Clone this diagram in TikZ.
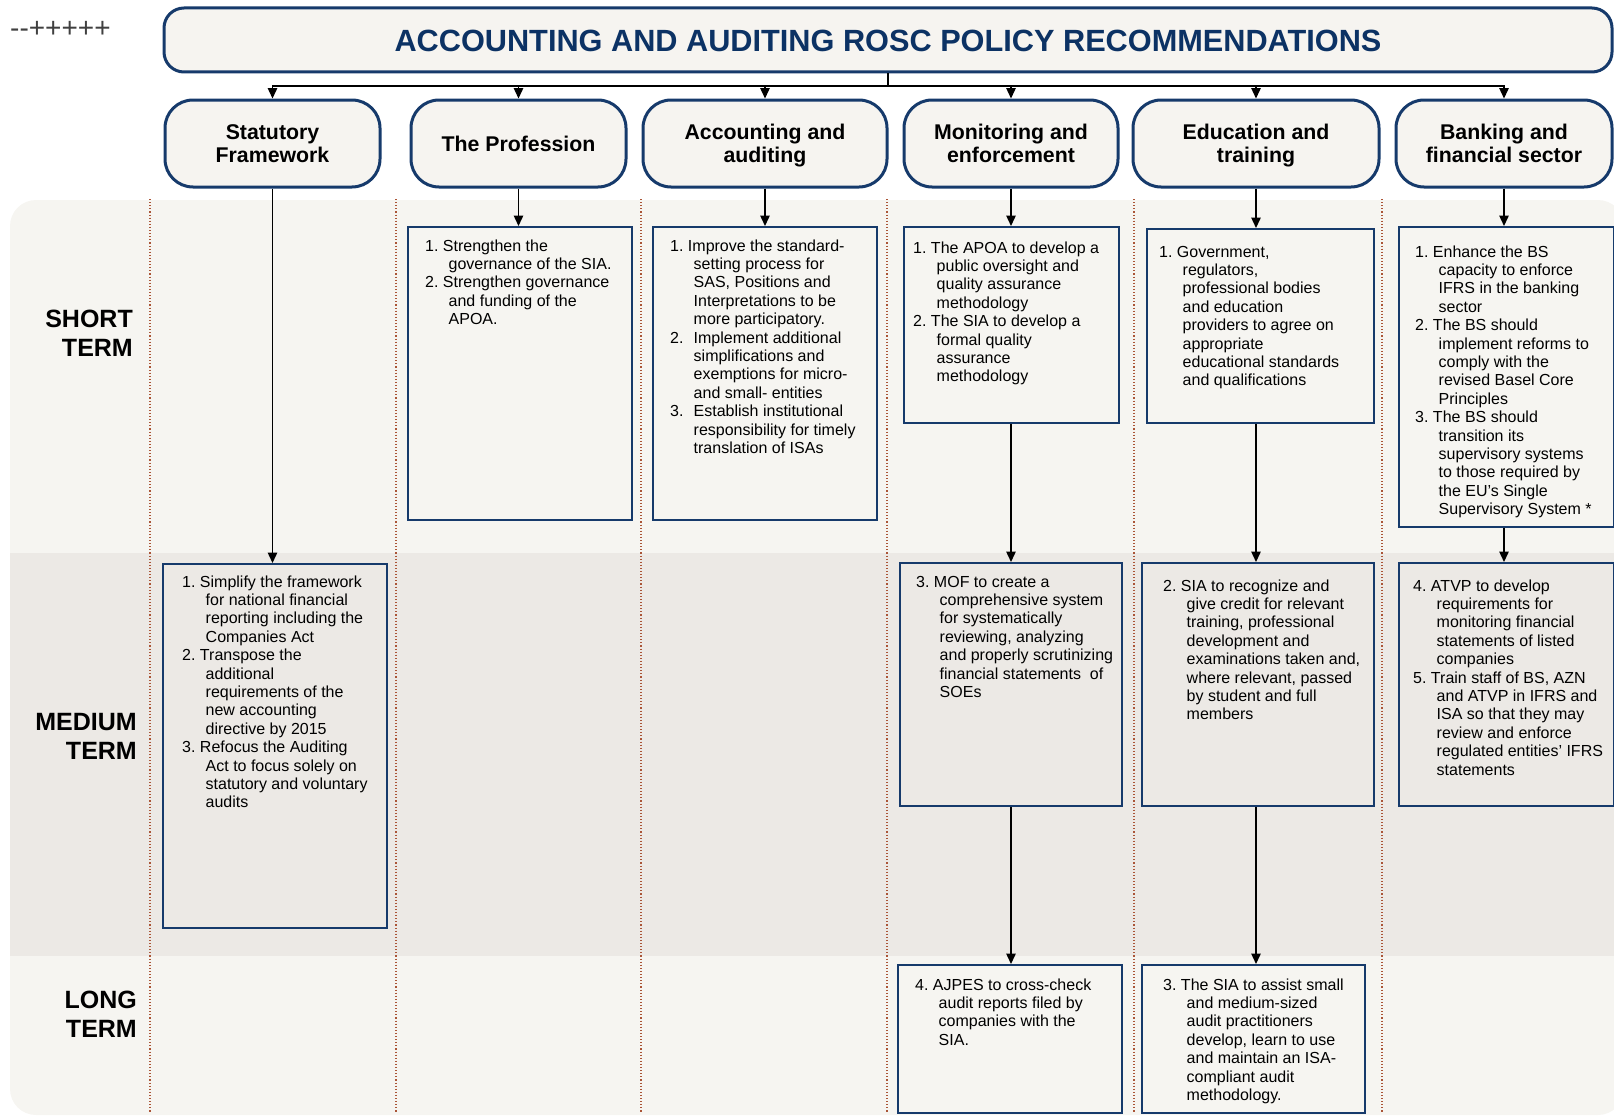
\documentclass[tikz,border=0pt]{standalone}
\usepackage{fontspec}
\setmainfont{Liberation Sans}
\usetikzlibrary{arrows.meta}
\definecolor{navy}{RGB}{22,58,107}
\definecolor{titleblue}{RGB}{12,50,100}
\definecolor{hdrfill}{RGB}{246,244,240}
\definecolor{lightband}{RGB}{246,245,241}
\definecolor{midband}{RGB}{236,233,229}
\definecolor{divcol}{RGB}{170,85,55}
\newcommand\bodyfont{\fontsize{16}{18.4}\selectfont}
\newcommand\itm[2]{\hangindent=23.5pt\hangafter=1\noindent\strut#1\ #2\par}
\newcommand\itmw[2]{\hangindent=23.5pt\hangafter=1\noindent\strut\makebox[23.5pt][l]{#1}#2\par}
\newcommand\itmtext[1]{\parbox[t]{270pt}{\bodyfont\raggedright #1}}
\tikzset{
  hdr/.style={draw=navy, line width=3pt, fill=hdrfill, rounded corners=28pt,
    inner sep=0pt, minimum height=87pt},
  hdrtxt/.style={align=center, inner sep=0pt, font=\fontsize{21.3}{23.5}\selectfont\bfseries},
  tbox/.style={draw=navy, line width=2pt, inner sep=0pt, anchor=north west},
  txt/.style={inner sep=0pt, anchor=north west},
  conn/.style={line width=1.4pt, black},
  arr/.style={line width=1.4pt, black, -{Triangle[length=10.5pt,width=9.5pt]}},
  divider/.style={dotted, line width=1.1pt, divcol},
  term/.style={inner sep=0pt, anchor=north east, align=right, font=\fontsize{25}{29.5}\selectfont\bfseries}
}
\begin{document}
\begin{tikzpicture}[x=1pt,y=-1pt]
\useasboundingbox (0,0) rectangle (1614,1116);
% bands
\fill[lightband, rounded corners=26pt] (10,200) rectangle (1624,1115);
\fill[midband] (10,553) rectangle (1624,956);
% column dividers
\foreach \x in {150,396,641,887,1134,1382} \draw[divider] (\x,199) -- (\x,1113);
% corner mark
\node[anchor=base west, inner sep=0pt, font=\fontsize{28}{30}\selectfont, text=black!75] (mark) at (10,38) {-{}-+++++};
% title
\node[draw=navy, line width=3pt, fill=hdrfill, rounded corners=20pt, minimum width=1448pt, minimum height=64pt,
  inner sep=0pt, text height=24pt, text depth=0pt, font=\fontsize{30.7}{34}\selectfont\bfseries, text=titleblue] (title) at (888,40)
  {ACCOUNTING AND AUDITING ROSC POLICY RECOMMENDATIONS};
% headers
\node[hdr, minimum width=215pt] (h1) at (272.5,143.5) {};
\node[hdr, minimum width=215pt] (h2) at (518.5,143.5) {};
\node[hdr, minimum width=244pt] (h3) at (765,143.5) {};
\node[hdr, minimum width=214pt] (h4) at (1011,143.5) {};
\node[hdr, minimum width=246pt] (h5) at (1256,143.5) {};
\node[hdr, minimum width=216pt] (h6) at (1504,143.5) {};
\node[hdrtxt] (h1t) at ([yshift=-3pt]h1.center) {\strut Statutory\\\strut Framework};
\node[hdrtxt] (h2t) at ([yshift=-3pt]h2.center) {\strut The Profession};
\node[hdrtxt] (h3t) at ([yshift=-3pt]h3.center) {\strut Accounting and\\\strut auditing};
\node[hdrtxt] (h4t) at ([yshift=-3pt]h4.center) {\strut Monitoring and\\\strut enforcement};
\node[hdrtxt] (h5t) at ([yshift=-3pt]h5.center) {\strut Education and\\\strut training};
\node[hdrtxt] (h6t) at ([yshift=-3pt]h6.center) {\strut Banking and\\\strut financial sector};
% term labels
\node[term] (tshort) at (133,306.35) {\strut SHORT\\TERM};
\node[term] (tmed) at (137,709.35) {\strut MEDIUM\\TERM};
\node[term] (tlong) at (137,987.35) {\strut LONG\\TERM};
% short term boxes
\node[tbox, fill=lightband, minimum width=224pt, minimum height=293pt] (p1) at (407,226) {};
\node[tbox, fill=lightband, minimum width=224pt, minimum height=293pt] (a1) at (652,226) {};
\node[tbox, fill=lightband, minimum width=215pt, minimum height=196pt] (m1) at (903,226) {};
\node[tbox, fill=lightband, minimum width=227pt, minimum height=194pt] (e1) at (1146,228) {};
\node[tbox, fill=lightband, minimum width=215pt, minimum height=300pt] (b1) at (1398,226) {};
% medium term boxes
\node[tbox, fill=midband, minimum width=224pt, minimum height=364pt] (s2) at (162,563) {};
\node[tbox, fill=midband, minimum width=222pt, minimum height=243pt] (m2) at (899,562) {};
\node[tbox, fill=midband, minimum width=232pt, minimum height=243pt] (e2) at (1141,562) {};
\node[tbox, fill=midband, minimum width=215pt, minimum height=243pt] (b2) at (1398,562) {};
% long term boxes
\node[tbox, fill=lightband, minimum width=224pt, minimum height=148pt] (m3) at (897,964) {};
\node[tbox, fill=lightband, minimum width=223pt, minimum height=148pt] (e3) at (1141,964) {};
% texts
\node[txt] (p1t) at (425,238.1) {\itmtext{%
\itm{1.}{Strengthen the\newline governance of the SIA.}
\itm{2.}{Strengthen governance\newline and funding of the\newline APOA.}}};
\node[txt] (a1t) at (670,238.1) {\itmtext{%
\itm{1.}{Improve the standard-\newline setting process for\newline SAS, Positions and\newline Interpretations to be\newline more participatory.}
\itmw{2.}{Implement additional\newline simplifications and\newline exemptions for micro-\newline and small- entities}
\itmw{3.}{Establish institutional\newline responsibility for timely\newline translation of ISAs}}};
\node[txt] (m1t) at (913,240.1) {\itmtext{%
\itm{1.}{The APOA to develop a\newline public oversight and\newline quality assurance\newline methodology}
\itm{2.}{The SIA to develop a\newline formal quality\newline assurance\newline methodology}}};
\node[txt] (e1t) at (1159,244.1) {\itmtext{%
\itm{1.}{Government,\newline regulators,\newline professional bodies\newline and education\newline providers to agree on\newline appropriate\newline educational standards\newline and qualifications}}};
\node[txt] (b1t) at (1415,244.1) {\itmtext{%
\itm{1.}{Enhance the BS\newline capacity to enforce\newline IFRS in the banking\newline sector}
\itm{2.}{The BS should\newline implement reforms to\newline comply with the\newline revised Basel Core\newline Principles}
\itm{3.}{The BS should\newline transition its\newline supervisory systems\newline to those required by\newline the EU’s Single\newline Supervisory System *}}};
\node[txt] (s2t) at (182,574.1) {\itmtext{%
\itm{1.}{Simplify the framework\newline for national financial\newline reporting including the\newline Companies Act}
\itm{2.}{Transpose the\newline additional\newline requirements of the\newline new accounting\newline directive by 2015}
\itm{3.}{Refocus the Auditing\newline Act to focus solely on\newline statutory and voluntary\newline audits}}};
\node[txt] (m2t) at (916,574.1) {\itmtext{%
\itm{3.}{MOF to create a\newline comprehensive system\newline for systematically\newline reviewing, analyzing\newline and properly scrutinizing\newline financial statements\ \ of\newline SOEs}}};
\node[txt] (e2t) at (1163,578.1) {\itmtext{%
\itm{2.}{SIA to recognize and\newline give credit for relevant\newline training, professional\newline development and\newline examinations taken and,\newline where relevant, passed\newline by student and full\newline members}}};
\node[txt] (b2t) at (1413,578.1) {\itmtext{%
\itm{4.}{ATVP to develop\newline requirements for\newline monitoring financial\newline statements of listed\newline companies}
\itm{5.}{Train staff of BS, AZN\newline and ATVP in IFRS and\newline ISA so that they may\newline review and enforce\newline regulated entities’ IFRS\newline statements}}};
\node[txt] (m3t) at (915,977.1) {\itmtext{%
\itm{4.}{AJPES to cross-check\newline audit reports filed by\newline companies with the\newline SIA.}}};
\node[txt] (e3t) at (1163,977.1) {\itmtext{%
\itm{3.}{The SIA to assist small\newline and medium-sized\newline audit practitioners\newline develop, learn to use\newline and maintain an ISA-\newline compliant audit\newline methodology.}}};
% top connectors
\coordinate (bus) at (888,86);
\draw[conn] (title.south) -- (bus);
\foreach \h in {h1,h2,h3,h4,h5,h6} \draw[arr] (bus) -| (\h.north);
% column connectors
\draw[arr] (h1.south) -- (h1.south |- s2.north);
\draw[arr] (h2.south) -- (h2.south |- p1.north);
\draw[arr] (h3.south) -- (h3.south |- a1.north);
\draw[arr] (h4.south) -- (h4.south |- m1.north);
\draw[arr] (h4.south |- m1.south) -- (h4.south |- m2.north);
\draw[arr] (h4.south |- m2.south) -- (h4.south |- m3.north);
\draw[arr] (h5.south) -- (h5.south |- e1.north);
\draw[arr] (h5.south |- e1.south) -- (h5.south |- e2.north);
\draw[arr] (h5.south |- e2.south) -- (h5.south |- e3.north);
\draw[arr] (h6.south) -- (h6.south |- b1.north);
\draw[arr] (h6.south |- b1.south) -- (h6.south |- b2.north);
\end{tikzpicture}
\end{document}
